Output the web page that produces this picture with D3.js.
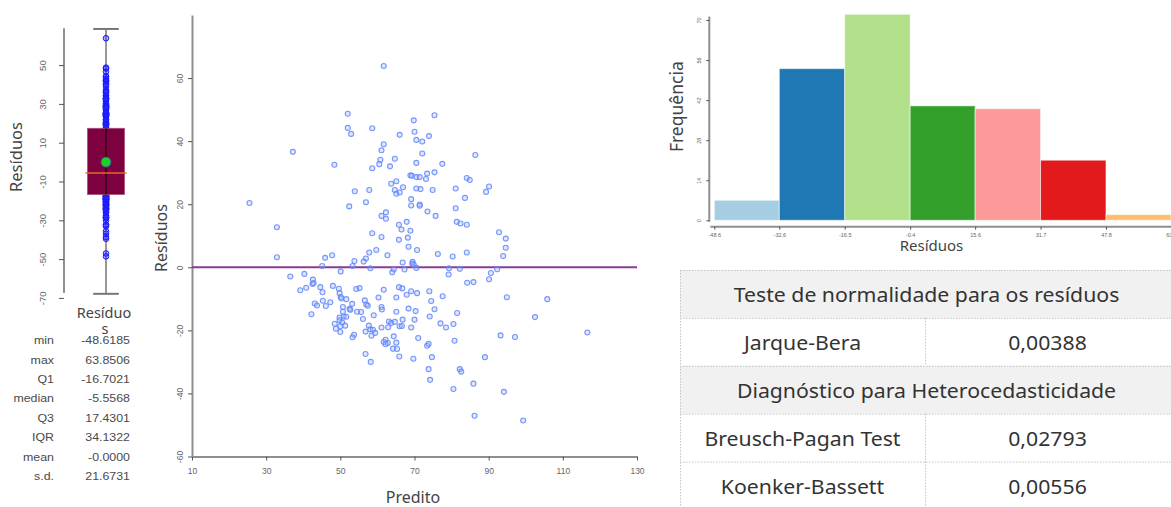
<!DOCTYPE html>
<html><head><meta charset="utf-8">
<script src="https://cdn.jsdelivr.net/npm/d3@7"></script>
<style>
html,body{margin:0;padding:0;background:#fff;}
svg{display:block;}
</style></head><body>
<svg id="c" width="1171" height="507"></svg>
<script>
// ---------------- DATA ----------------
const predito = [25.5,32.9,37.2,32.9,48.4,52.0,52.0,52.9,58.6,61.7,66.0,61.7,61.1,64.7,60.8,60.5,58.6,63.4,63.7,65.1,64.7,65.1,66.0,53.9,57.8,56.9,52.4,62.3,61.1,62.3,65.8,58.6,61.1,65.8,57.8,59.7,62.7,47.8,45.9,
53.8,56.9,56.3,45.1,53.3,58.1,50.1,64.4,64.0,36.5,40.3,42.6,42.5,42.8,40.8,39.2,44.6,45.2,48.0,49.6,49.8,50.1,50.3,51.6,54.3,55.2,61.7,65.8,60.3,65.1,56.6,57.0,53.2,52.5,52.7,50.7,45.3,47.3,43.1,43.7,46.1,57.4,61.1,61.2,65.1,54.5,55.6,50.7,42.2,50.9,51.6,49.8,59.0,56.1,49.8,50.5,63.1,63.7,64.7,66.0,48.5,48.8,50.0,51.3,57.7,61.1,62.9,50.0,56.8,58.1,58.8,59.4,58.4,53.7,53.3,64.4,62.2,61.7,62.8,62.2,65.1,64.2,65.3,65.9,56.8,58.2,
75.4,69.8,70.0,73.9,70.5,72.1,72.1,86.4,70.5,77.5,75.4,73.4,68.9,69.3,70.5,71.4,73.1,84.1,84.9,66.9,70.5,71.6,74.9,81.1,90.1,89.3,83.6,69.1,69.1,71.4,71.4,81.1,73.5,75.7,67.9,66.5,68.9,81.4,82.4,84.1,92.8,94.6,68.2,94.6,68.4,70.7,76.3,80.3,84.1,93.9,66.8,69.5,69.4,69.8,70.5,67.3,79.3,82.2,92.3,90.6,79.2,90.1,84.2,85.9,66.7,69.1,70.7,67.9,74.0,74.5,77.6,94.9,105.8,68.4,70.3,75.4,81.5,74.1,66.8,70.0,102.5,66.6,69.1,77.0,78.5,80.5,116.6,71.0,93.2,97.1,80.8,73.4,73.8,69.7,74.7,89.0,73.8,82.2,82.6,74.2,85.9,80.5,94.1,86.2,99.3];
const residuos = [20.4,12.7,36.6,3.2,32.5,48.7,44.2,42.3,44.1,63.85,42.0,39.0,37.1,34.4,34.1,32.7,31.4,32.0,26.5,27.3,24.5,23.3,23.7,24.1,24.5,20.6,19.3,17.4,16.3,15.4,13.5,10.8,9.6,8.7,4.7,5.5,3.8,3.8,3.0,
2.0,2.8,1.8,0.4,0.4,-0.3,-1.3,-0.7,-1.6,-2.9,-2.1,-3.9,-5.3,-5.0,-6.5,-7.3,-6.3,-7.9,-5.9,-6.8,-8.2,-9.4,-9.9,-10.1,-6.9,-6.6,-7.1,-6.3,-9.6,-9.6,-10.5,-11.8,-11.6,-13.2,-13.5,-12.6,-10.6,-11.1,-11.5,-12.1,-12.3,-12.2,-12.6,-13.4,-14.1,-14.1,-14.2,-14.1,-14.9,-15.6,-15.7,-15.9,-15.2,-16.4,-16.8,-17.5,-17.2,-17.7,-17.3,-18.7,-17.9,-19.5,-18.7,-18.5,-18.5,-19.1,-19.0,-20.5,-20.4,-19.7,-19.8,-20.8,-21.7,-21.4,-22.2,-21.9,-23.0,-23.7,-24.0,-24.4,-23.9,-25.8,-25.9,-28.3,-27.5,-30.0,
48.2,46.6,43.0,41.6,40.4,39.9,36.1,35.6,33.1,32.8,30.1,29.7,29.2,29.0,28.6,28.6,28.0,28.3,27.7,25.4,25.0,24.8,24.5,25.0,25.6,23.9,22.0,21.6,19.6,19.9,19.5,18.7,17.7,16.3,14.4,12.0,11.6,14.4,13.9,13.5,11.1,9.1,9.4,6.2,6.5,5.5,4.2,3.4,4.7,3.6,1.5,1.7,1.2,0.8,-0.2,-0.7,-0.3,-0.5,-0.6,-1.8,-2.3,-3.8,-4.9,-4.7,-6.7,-7.6,-8.2,-8.7,-7.6,-10.7,-9.2,-9.5,-10.1,-13.1,-13.9,-13.3,-14.5,-15.6,-16.6,-16.6,-15.8,-18.6,-19.1,-17.8,-19.1,-18.0,-20.7,-22.4,-21.6,-22.1,-23.3,-24.9,-24.3,-29.0,-28.5,-28.5,-32.3,-32.3,-33.1,-35.7,-36.9,-38.6,-39.5,-47.1,-48.6];

const statLabels = ["min","max","Q1","median","Q3","IQR","mean","s.d."];
const statValues = ["-48.6185","63.8506","-16.7021","-5.5568","17.4301","34.1322","-0.0000","21.6731"];
const boxCategory = ["Resíduos"];
const boxTicks = [-70,-50,-30,-10,10,30,50];

const scatterXTicks = [10,30,50,70,90,110,130];
const scatterYTicks = [-60,-40,-20,0,20,40,60];

const binEdges = [-48.6,-32.6,-16.5,-0.4,15.6,31.7,47.8,63.8];
const binLabels = ["-48.6","-32.6","-16.5","-0.4","15.6","31.7","47.8","63.8"];
const histCounts = [7,53,72,40,39,21,2];
const histYTicks = [0,14,28,42,56,70];

const tableRows = [
  ["Teste de normalidade para os resíduos"],
  ["Jarque-Bera","0,00388"],
  ["Diagnóstico para Heterocedasticidade"],
  ["Breusch-Pagan Test","0,02793"],
  ["Koenker-Bassett","0,00556"]
];

// ---------------- DRAW ----------------
const FONT = "'Noto Sans','Open Sans',sans-serif";
const TFONT = "'Liberation Sans',Arial,sans-serif";
const svg = d3.select('#c');
const num = statValues.map(Number);
const q1 = num[2], med = num[3], q3 = num[4], iqr = num[5], mean = num[6];

function styleAxis(g, labelColor, fs){
  g.selectAll('.domain').attr('stroke','#8f8f8f').attr('stroke-width',2);
  g.selectAll('.tick line').attr('stroke','#555').attr('stroke-width',1);
  g.selectAll('.tick text').attr('fill',labelColor).style('font-family',TFONT).style('font-size',fs+'px');
}

// ===== Boxplot =====
const yB = d3.scaleLinear().domain([-70,70]).range([297.9,26.3]);
const xB = d3.scalePoint().domain(boxCategory).range([64,148]).padding(0.5);
const gBA = svg.append('g').attr('transform','translate(64,0)')
  .call(d3.axisLeft(yB).tickValues(boxTicks).tickSize(5).tickSizeOuter(0).tickFormat(d=>String(d)));
gBA.select('.domain').attr('d',`M0,${yB(69)}V${yB(-67.5)}`);
styleAxis(gBA,'#666',9.5);
gBA.selectAll('.tick text').attr('x',null).attr('dy',null)
  .attr('text-anchor','middle').attr('transform','translate(-18,0) rotate(-90)');

svg.append('text').attr('transform',`translate(22,157) rotate(-90)`)
  .attr('text-anchor','middle').style('font-family',FONT).style('font-size','16.5px')
  .attr('fill','#444').text('Resíduos');

const cx = xB(boxCategory[0]);
const wTop = q3 + 1.5*iqr, wBot = q1 - 1.5*iqr;
svg.append('line').attr('x1',cx).attr('x2',cx).attr('y1',yB(wTop)).attr('y2',yB(wBot))
  .attr('stroke','#777').attr('stroke-width',1.5);
[wTop,wBot].forEach(v=>{
  svg.append('line').attr('x1',cx-12.8).attr('x2',cx+12.8).attr('y1',yB(v)).attr('y2',yB(v))
    .attr('stroke','#777').attr('stroke-width',2);
});
svg.append('g').selectAll('circle').data(residuos).join('circle')
  .attr('cx',cx).attr('cy',d=>yB(d)).attr('r',2.8)
  .attr('fill','rgba(40,40,255,0.35)').attr('stroke','#1a1aff').attr('stroke-width',1);
svg.append('rect').attr('x',cx-18.5).attr('width',37)
  .attr('y',yB(q3)).attr('height',yB(q1)-yB(q3))
  .attr('fill','#7d003f').attr('stroke','#a8507a').attr('stroke-width',0.8);
svg.append('line').attr('x1',cx).attr('x2',cx).attr('y1',yB(q3)).attr('y2',yB(q1))
  .attr('stroke','#2e0418').attr('stroke-width',1.5);
svg.append('line').attr('x1',cx-20.5).attr('x2',cx+20.5).attr('y1',yB(med)).attr('y2',yB(med))
  .attr('stroke','#e8642a').attr('stroke-width',1.5);
svg.append('circle').attr('cx',cx).attr('cy',yB(mean)).attr('r',5)
  .attr('fill','#1ed21e').attr('stroke','#3355bb').attr('stroke-width',1);

svg.append('text').attr('x',104).attr('y',318).attr('text-anchor','middle')
  .style('font-family',FONT).style('font-size','14.5px').attr('fill','#444').text('Resíduo');
svg.append('text').attr('x',105).attr('y',334).attr('text-anchor','middle')
  .style('font-family',FONT).style('font-size','14.5px').attr('fill','#444').text('s');

const gStats = svg.append('g');
statLabels.forEach((lab,i)=>{
  const yy = 344.3 + i*19.37;
  gStats.append('text').attr('transform',`translate(54,${yy}) scale(1.18,1)`)
    .attr('text-anchor','end').style('font-family',TFONT).style('font-size','10.5px')
    .attr('fill','#4a4a4a').text(lab);
  gStats.append('text').attr('transform',`translate(130,${yy}) scale(1.18,1)`)
    .attr('text-anchor','end').style('font-family',TFONT).style('font-size','10.5px')
    .attr('fill','#4a4a4a').text(statValues[i]);
});

// ===== Scatter =====
const xS = d3.scaleLinear().domain([10,130]).range([192,637]);
const yS = d3.scaleLinear().domain([-60,80]).range([456.5,15]);
const gSX = svg.append('g').attr('transform',`translate(0,${yS(-60)})`)
  .call(d3.axisBottom(xS).tickValues(scatterXTicks).tickSize(4).tickSizeOuter(0));
styleAxis(gSX,'#666',8.5);
gSX.selectAll('.tick text').attr('y',null).attr('dy',null).attr('transform','translate(0,17)');
const gSY = svg.append('g').attr('transform',`translate(${xS(10)},0)`)
  .call(d3.axisLeft(yS).tickValues(scatterYTicks).tickSize(4).tickSizeOuter(0).tickFormat(d=>String(d)));
styleAxis(gSY,'#666',8.5);
gSY.selectAll('.tick text').attr('x',null).attr('dy',null)
  .attr('text-anchor','middle').attr('transform','translate(-9.5,0) rotate(-90)');

svg.append('text').attr('transform','translate(166.5,238) rotate(-90)').attr('text-anchor','middle')
  .style('font-family',FONT).style('font-size','16px').attr('fill','#444').text('Resíduos');
svg.append('text').attr('x',413).attr('y',503).attr('text-anchor','middle')
  .style('font-family',FONT).style('font-size','16px').attr('fill','#444').text('Predito');

svg.append('line').attr('x1',xS(10)).attr('x2',xS(130)).attr('y1',yS(0)).attr('y2',yS(0))
  .attr('stroke','#8a3a96').attr('stroke-width',2);
svg.append('g').selectAll('circle').data(predito).join('circle')
  .attr('cx',d=>xS(d)).attr('cy',(d,i)=>yS(residuos[i])).attr('r',2.5)
  .attr('fill','rgba(150,175,255,0.3)').attr('stroke','#6286f7').attr('stroke-opacity',0.85).attr('stroke-width',1.1);

// ===== Histogram =====
const xH = d3.scaleLinear().domain([binEdges[0],binEdges[binEdges.length-1]]).range([714.3,1171]);
const yH = d3.scaleLinear().domain([0,70]).range([220.3,20]);
const palette = d3.schemePaired;
svg.append('g').selectAll('rect').data(histCounts).join('rect')
  .attr('x',(d,i)=>xH(binEdges[i])).attr('width',(d,i)=>xH(binEdges[i+1])-xH(binEdges[i]))
  .attr('y',d=>yH(d)).attr('height',d=>yH(0)-yH(d))
  .attr('fill',(d,i)=>palette[i]).attr('stroke','#fff').attr('stroke-opacity',0.55).attr('stroke-width',1);
const gHX = svg.append('g').attr('transform','translate(0,226.7)')
  .call(d3.axisBottom(xH).tickValues(binEdges).tickFormat((d,i)=>binLabels[i]).tickSize(3).tickSizeOuter(0));
gHX.select('.domain').attr('d',`M${xH(binEdges[0])-4},0H1171`);
styleAxis(gHX,'#666',5.5);
gHX.selectAll('.tick text').attr('y',null).attr('dy',null).attr('transform','translate(0,10)');
const gHY = svg.append('g').attr('transform','translate(709.3,0)')
  .call(d3.axisLeft(yH).tickValues(histYTicks).tickSize(3).tickSizeOuter(0).tickFormat(d=>String(d)));
gHY.select('.domain').attr('d',`M0,${yH(71.2)}V${yH(-0.5)}`);
styleAxis(gHY,'#666',5.5);
gHY.selectAll('.tick text').attr('x',null).attr('dy',null)
  .attr('text-anchor','middle').attr('transform','translate(-8,0) rotate(-90)');
svg.append('text').attr('transform','translate(682.5,106.7) rotate(-90)').attr('text-anchor','middle')
  .style('font-family',FONT).style('font-size','17.5px').attr('fill','#444').text('Frequência');
svg.append('text').attr('x',931.5).attr('y',251).attr('text-anchor','middle')
  .style('font-family',FONT).style('font-size','15px').attr('fill','#444').text('Resíduos');

// ===== Table =====
const tLeft = 680, tRight = 1171, tMid = 925, tTop = 270, rowH = 47.9;
const gT = svg.append('g');
tableRows.forEach((row,i)=>{
  const y0 = tTop + i*rowH;
  if(row.length===1){
    gT.append('rect').attr('x',tLeft).attr('y',y0).attr('width',tRight-tLeft).attr('height',rowH).attr('fill','#f1f1f1');
  }
});
tableRows.forEach((row,i)=>{
  const y0 = tTop + i*rowH;
  gT.append('line').attr('x1',tLeft).attr('x2',tRight).attr('y1',y0+0.5).attr('y2',y0+0.5)
    .attr('stroke','#c4c4c4').attr('stroke-dasharray','1.5,1.5');
  if(row.length===2){
    gT.append('line').attr('x1',tMid+0.5).attr('x2',tMid+0.5).attr('y1',y0).attr('y2',y0+rowH)
      .attr('stroke','#c4c4c4').attr('stroke-dasharray','1.5,1.5');
  }
  const yc = y0 + rowH/2 + 0.5;
  const cells = row.length===1 ? [[row[0],(tLeft+1173)/2]] : [[row[0],(tLeft+tMid)/2],[row[1],(tMid+1170)/2]];
  cells.forEach(([t,xc])=>{
    gT.append('text').attr('transform',`translate(${xc},${yc}) scale(1.09,1)`)
      .attr('text-anchor','middle').attr('dominant-baseline','central')
      .style('font-family',FONT).style('font-size','19.5px').attr('fill','#333').text(t);
  });
});
gT.append('line').attr('x1',tLeft+0.5).attr('x2',tLeft+0.5).attr('y1',tTop).attr('y2',507)
  .attr('stroke','#c4c4c4').attr('stroke-dasharray','1.5,1.5');
</script>
</body></html>
